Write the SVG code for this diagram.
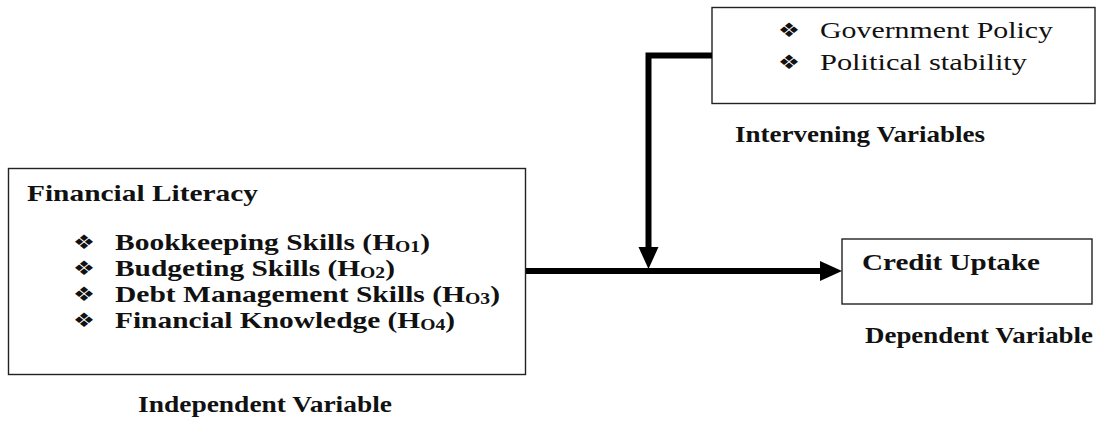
<svg xmlns="http://www.w3.org/2000/svg" width="1107" height="422" viewBox="0 0 1107 422">
<style>
.box{fill:#fff;stroke:#222;stroke-width:1.4}
.b{font-family:"Liberation Serif","Times New Roman",serif;font-weight:bold;font-size:24px;fill:#111}
.r{font-family:"Liberation Serif","Times New Roman",serif;font-size:23px;fill:#111}
.sub{font-size:16px}
.bul{font-family:"DejaVu Sans",sans-serif;font-size:20px;fill:#111}
.conn{fill:none;stroke:#000;stroke-width:6}
</style>
<defs>
<marker id="ah" markerUnits="userSpaceOnUse" markerWidth="22" markerHeight="22" refX="0" refY="10" orient="auto" viewBox="0 0 22 20">
<path d="M0,0 L22,10 L0,20 z" fill="#000"/>
</marker>
</defs>
<rect width="1107" height="422" fill="#fff"/>
<g id="independent">
<rect class="box" x="8.5" y="168.5" width="517" height="206"/>
<text class="b" x="27" y="201" textLength="231" lengthAdjust="spacingAndGlyphs">Financial Literacy</text>
<text class="bul" x="73" y="249" textLength="22" lengthAdjust="spacingAndGlyphs">❖</text>
<text class="b" x="115" y="250" textLength="315" lengthAdjust="spacingAndGlyphs">Bookkeeping Skills (H<tspan class="sub" dy="2">O1</tspan><tspan dy="-2">)</tspan></text>
<text class="bul" x="73" y="275" textLength="22" lengthAdjust="spacingAndGlyphs">❖</text>
<text class="b" x="115" y="276" textLength="280" lengthAdjust="spacingAndGlyphs">Budgeting Skills (H<tspan class="sub" dy="2">O2</tspan><tspan dy="-2">)</tspan></text>
<text class="bul" x="73" y="301" textLength="22" lengthAdjust="spacingAndGlyphs">❖</text>
<text class="b" x="115" y="302" textLength="385" lengthAdjust="spacingAndGlyphs">Debt Management Skills (H<tspan class="sub" dy="2">O3</tspan><tspan dy="-2">)</tspan></text>
<text class="bul" x="73" y="327" textLength="22" lengthAdjust="spacingAndGlyphs">❖</text>
<text class="b" x="115" y="328" textLength="340" lengthAdjust="spacingAndGlyphs">Financial Knowledge (H<tspan class="sub" dy="2">O4</tspan><tspan dy="-2">)</tspan></text>
<text class="b" x="138" y="412" textLength="254" lengthAdjust="spacingAndGlyphs">Independent Variable</text>
</g>
<g id="intervening">
<rect class="box" x="712" y="7.5" width="383" height="96"/>
<text class="bul" x="778" y="37" textLength="22" lengthAdjust="spacingAndGlyphs">❖</text>
<text class="r" x="820" y="38" textLength="233" lengthAdjust="spacingAndGlyphs">Government Policy</text>
<text class="bul" x="778" y="69" textLength="22" lengthAdjust="spacingAndGlyphs">❖</text>
<text class="r" x="820" y="70" textLength="207" lengthAdjust="spacingAndGlyphs">Political stability</text>
<text class="b" x="735" y="142" textLength="250" lengthAdjust="spacingAndGlyphs">Intervening Variables</text>
</g>
<g id="dependent">
<rect class="box" x="842" y="239" width="250" height="65"/>
<text class="b" x="862" y="270" textLength="178" lengthAdjust="spacingAndGlyphs">Credit Uptake</text>
<text class="b" x="865" y="343" textLength="228" lengthAdjust="spacingAndGlyphs">Dependent Variable</text>
</g>
<g id="connectors">
<path class="conn" d="M526,271 H820" marker-end="url(#ah)"/>
<path class="conn" d="M712,55.5 H648.5 V247" marker-end="url(#ah)"/>
</g>
</svg>
